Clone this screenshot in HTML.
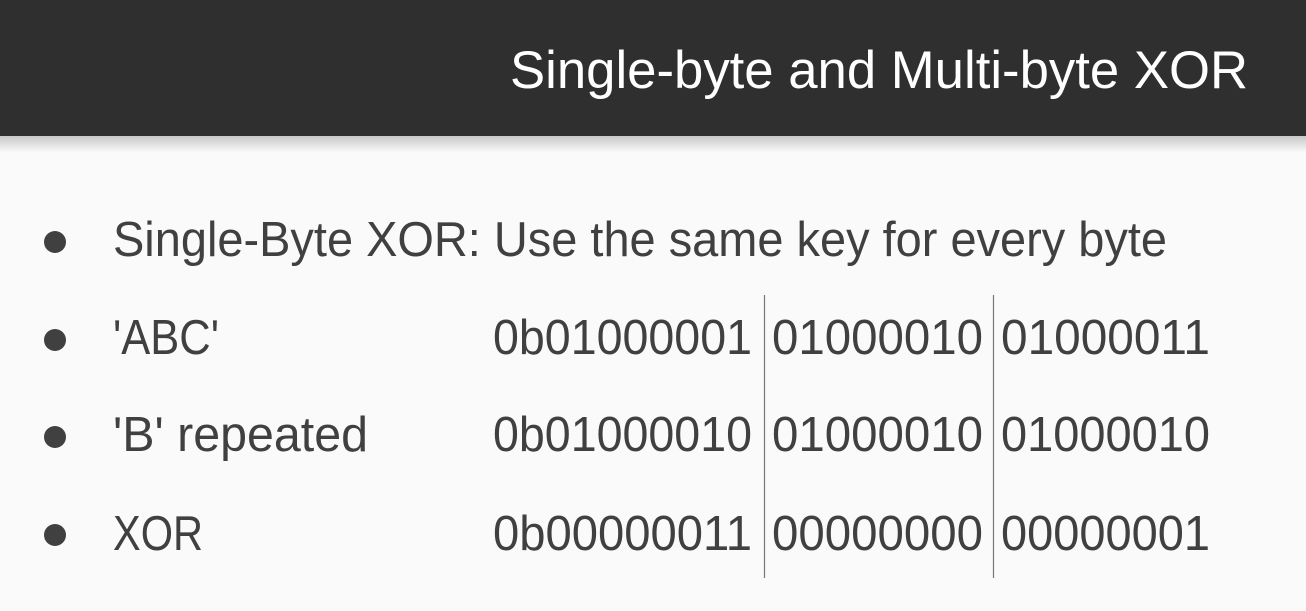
<!DOCTYPE html>
<html><head><style>
html,body{margin:0;padding:0;}
body{width:1306px;height:611px;overflow:hidden;background:#f9f9f9;}
svg{display:block;font-family:"Liberation Sans",sans-serif;}
</style></head><body>
<svg width="1306" height="611" viewBox="0 0 1306 611">
<defs>
<linearGradient id="sh" x1="0" y1="0" x2="0" y2="1">
<stop offset="0" stop-color="#c8c8c8"/><stop offset="1" stop-color="#f9f9f9"/>
</linearGradient>
</defs>
<rect width="1306" height="611" fill="#fafafa"/>
<rect y="136" width="1306" height="16" fill="url(#sh)"/>
<rect width="1306" height="136" fill="#2f2f2f"/>
<text x="510" y="88" font-size="53" fill="#fff" textLength="738" lengthAdjust="spacingAndGlyphs">Single-byte and Multi-byte XOR</text>
<g fill="#404040">
<circle cx="55" cy="242" r="11"/><circle cx="55" cy="340" r="11"/><circle cx="55" cy="437" r="11"/><circle cx="55" cy="535" r="11"/>
<g font-size="49">
<text x="113" y="256" textLength="1054" lengthAdjust="spacingAndGlyphs">Single-Byte XOR: Use the same key for every byte</text>
<text x="113" y="354" textLength="106" lengthAdjust="spacingAndGlyphs">'ABC'</text>
<text x="113" y="451" textLength="255" lengthAdjust="spacingAndGlyphs">'B' repeated</text>
<text x="113" y="550" textLength="90" lengthAdjust="spacingAndGlyphs">XOR</text>
<text x="493" y="354" textLength="259" lengthAdjust="spacingAndGlyphs">0b01000001</text>
<text x="772" y="354" textLength="211" lengthAdjust="spacingAndGlyphs">01000010</text>
<text x="1001" y="354" textLength="209" lengthAdjust="spacingAndGlyphs">01000011</text>
<text x="493" y="451" textLength="259" lengthAdjust="spacingAndGlyphs">0b01000010</text>
<text x="772" y="451" textLength="211" lengthAdjust="spacingAndGlyphs">01000010</text>
<text x="1001" y="451" textLength="209" lengthAdjust="spacingAndGlyphs">01000010</text>
<text x="493" y="550" textLength="259" lengthAdjust="spacingAndGlyphs">0b00000011</text>
<text x="772" y="550" textLength="211" lengthAdjust="spacingAndGlyphs">00000000</text>
<text x="1001" y="550" textLength="209" lengthAdjust="spacingAndGlyphs">00000001</text>
</g>
</g>
<line x1="764.5" y1="295" x2="764.5" y2="578" stroke="#777" stroke-width="1.2"/>
<line x1="993.5" y1="295" x2="993.5" y2="578" stroke="#777" stroke-width="1.2"/>
</svg>
</body></html>
